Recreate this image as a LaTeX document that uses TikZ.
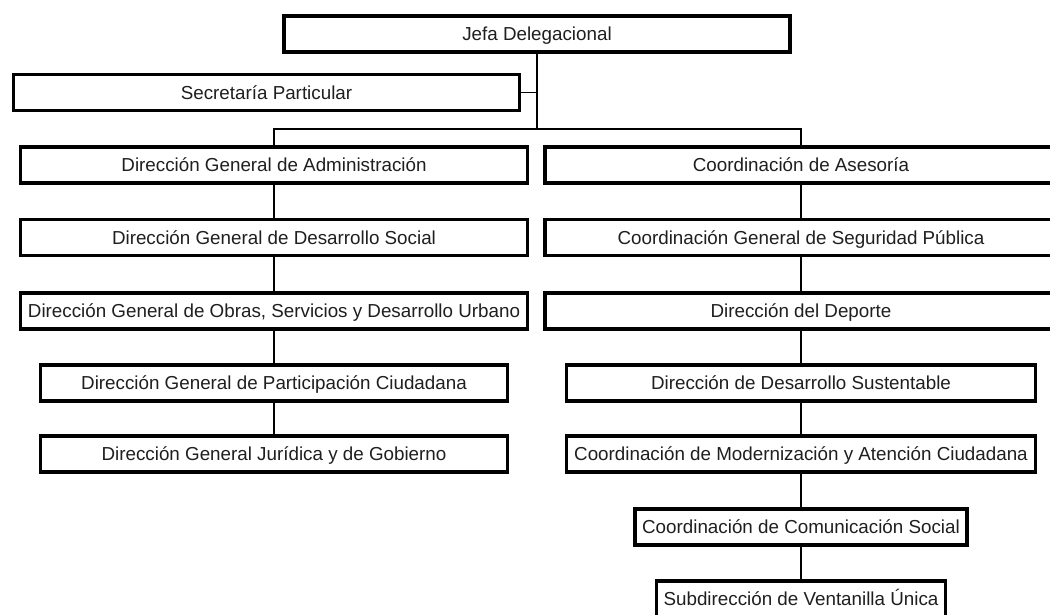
\documentclass[tikz,border=0pt]{standalone}
\usepackage{fontspec}
\setmainfont{Liberation Sans}
\begin{document}
\begin{tikzpicture}[x=1pt,y=-1pt,
  box/.style={draw, line width=3.4pt, rectangle, inner sep=0pt, minimum height=36pt,
    text height=13.4pt, text depth=0pt,
    font=\fontsize{18.8}{21}\selectfont, text=black!88},
  conn/.style={line width=1.3pt}]
\useasboundingbox (0,0) rectangle (1050,615);
\fill[white] (0,0) rectangle (1050,615);
% top
\node[box, minimum width=506pt] (jefa) at (537,34) {Jefa Delegacional};
\node[box, minimum width=506pt] (sec) at (266.5,92.5) {Secretaría Particular};
% left column
\node[box, minimum width=507pt] (admin) at (274,165) {Dirección General de Administración};
\node[box, minimum width=507pt] (social) at (274,237.5) {Dirección General de Desarrollo Social};
\node[box, minimum width=507pt] (obras) at (274,311) {Dirección General de Obras, Servicios y Desarrollo Urbano};
\node[box, minimum width=467pt] (partic) at (274,383) {Dirección General de Participación Ciudadana};
\node[box, minimum width=467pt] (juridica) at (274,454) {Dirección General Jurídica y de Gobierno};
% right column
\node[box, minimum width=512pt] (asesoria) at (801,165) {Coordinación de Asesoría};
\node[box, minimum width=512pt] (seguridad) at (801,237.5) {Coordinación General de Seguridad Pública};
\node[box, minimum width=512pt] (deporte) at (801,311) {Dirección del Deporte};
\node[box, minimum width=469pt] (sustent) at (801,383) {Dirección de Desarrollo Sustentable};
\node[box, minimum width=469pt] (modern) at (801,454) {Coordinación de Modernización y Atención Ciudadana};
\node[box, minimum width=332pt] (comun) at (801,527) {Coordinación de Comunicación Social};
\node[box, minimum width=289pt] (ventan) at (801,599) {Subdirección de Ventanilla Única};
% connectors
\coordinate (hj) at (537,129);
\draw[conn] (jefa.south) -- (hj);
\draw[conn] (sec.east) -- (sec.east -| jefa.south);
\draw[conn] (admin.north) -- (admin.north |- hj) -- (asesoria.north |- hj) -- (asesoria.north);
\draw[conn] (admin.south) -- (social.north);
\draw[conn] (social.south) -- (obras.north);
\draw[conn] (obras.south) -- (partic.north);
\draw[conn] (partic.south) -- (juridica.north);
\draw[conn] (asesoria.south) -- (seguridad.north);
\draw[conn] (seguridad.south) -- (deporte.north);
\draw[conn] (deporte.south) -- (sustent.north);
\draw[conn] (sustent.south) -- (modern.north);
\draw[conn] (modern.south) -- (comun.north);
\draw[conn] (comun.south) -- (ventan.north);
\end{tikzpicture}
\end{document}
